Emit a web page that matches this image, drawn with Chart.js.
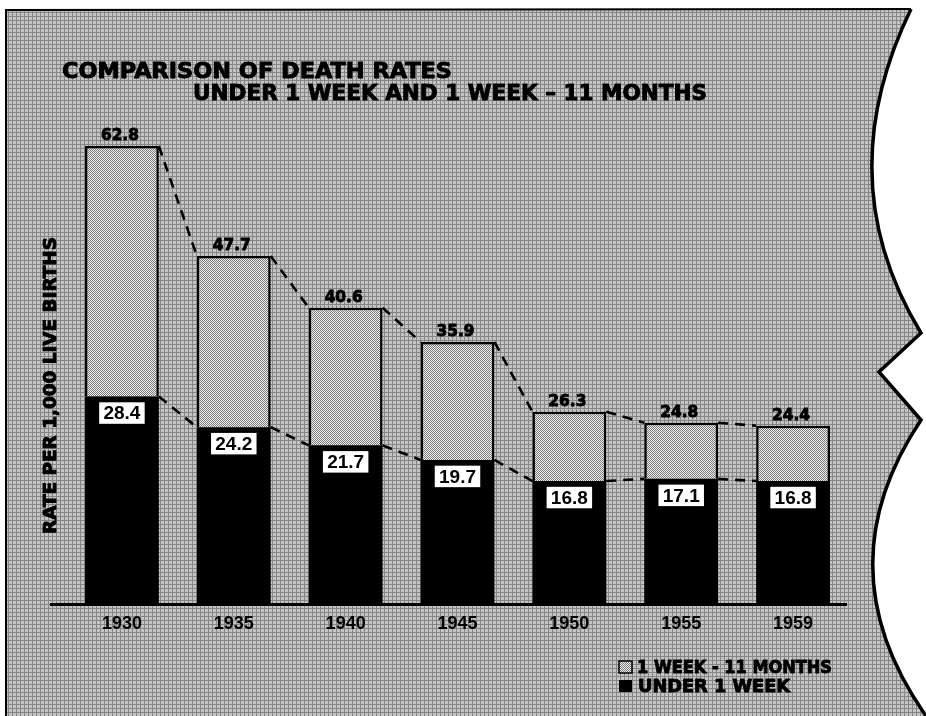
<!DOCTYPE html>
<html>
<head>
<meta charset="utf-8">
<script src="https://cdn.jsdelivr.net/npm/chart.js@4.4.0/dist/chart.umd.min.js"></script>
<style>
  html, body { margin: 0; padding: 0; background: #fff; }
</style>
</head>
<body>
<canvas id="death-chart" width="926" height="716"></canvas>
<script>
var years = ['1930', '1935', '1940', '1945', '1950', '1955', '1959'];
var underWeek = [28.4, 24.2, 21.7, 19.7, 16.8, 17.1, 16.8];
var weekToMonths = [34.4, 23.5, 18.9, 16.2, 9.5, 7.7, 7.6];
var totals = [62.8, 47.7, 40.6, 35.9, 26.3, 24.8, 24.4];

var canvas = document.getElementById('death-chart');
var ctx = canvas.getContext('2d');

function makePattern(size, draw) {
  var c = document.createElement('canvas');
  c.width = size; c.height = size;
  draw(c.getContext('2d'));
  return ctx.createPattern(c, 'repeat');
}

// scanned halftone looks
var bgPattern = makePattern(4, function(g) {
  g.fillStyle = '#c4c4c4'; g.fillRect(0, 0, 4, 4);
  g.fillStyle = '#858585'; g.fillRect(0, 0, 4, 1); g.fillRect(0, 0, 1, 4);
});
var dotPattern = makePattern(2, function(g) {
  g.fillStyle = '#f0f0f0'; g.fillRect(0, 0, 2, 2);
  g.fillStyle = '#7a7a7a'; g.fillRect(0, 0, 1, 1); g.fillRect(1, 1, 1, 1);
});

// stretch/squeeze a line of text to a given width, with a light stroke for weight
function fitText(c, text, x, y, w) {
  var m = c.measureText(text).width;
  c.save();
  c.translate(x, y);
  c.scale(w / m, 1);
  c.textAlign = 'left';
  c.lineWidth = 0.9;
  c.strokeStyle = c.fillStyle;
  c.fillText(text, 0, 0);
  c.strokeText(text, 0, 0);
  c.restore();
}

var decor = {
  id: 'decor',
  beforeDraw: function(chart) {
    var c = chart.ctx;
    c.save();
    c.fillStyle = '#fff';
    c.fillRect(0, 0, chart.width, chart.height);
    c.beginPath();
    c.moveTo(6, 10);
    c.lineTo(911, 9);
    c.quadraticCurveTo(828, 180, 921, 333);
    c.lineTo(879, 372);
    c.lineTo(921, 420);
    c.quadraticCurveTo(822, 568, 926, 716);
    c.lineTo(6, 716);
    c.closePath();
    c.fillStyle = bgPattern;
    c.fill();
    // frame
    c.strokeStyle = '#000';
    c.lineWidth = 2;
    c.beginPath();
    c.moveTo(6, 716); c.lineTo(6, 10); c.lineTo(911, 9);
    c.stroke();
    c.lineWidth = 3.5;
    c.beginPath();
    c.moveTo(911, 9);
    c.quadraticCurveTo(828, 180, 921, 333);
    c.lineTo(879, 372);
    c.lineTo(921, 420);
    c.quadraticCurveTo(822, 568, 926, 716);
    c.stroke();
    c.restore();
  },
  afterDatasetsDraw: function(chart) {
    var c = chart.ctx;
    var low = chart.getDatasetMeta(0).data;
    var high = chart.getDatasetMeta(1).data;
    var zero = chart.scales.y.getPixelForValue(0);
    c.save();
    // baseline
    c.strokeStyle = '#000';
    c.lineWidth = 3;
    c.beginPath();
    c.moveTo(50, zero + 1); c.lineTo(847, zero + 1);
    c.stroke();
    // dashed connectors between bar corners
    c.lineWidth = 2.6;
    c.setLineDash([10, 7]);
    [high, low].forEach(function(bars) {
      for (var i = 0; i < bars.length - 1; i++) {
        var a = bars[i], b = bars[i + 1];
        c.beginPath();
        c.moveTo(a.x + a.width / 2, a.y);
        c.lineTo(b.x - b.width / 2, b.y);
        c.stroke();
      }
    });
    c.setLineDash([]);
    // totals above bars
    c.fillStyle = '#000';
    c.font = 'bold 16px "DejaVu Sans"';
    c.textBaseline = 'alphabetic';
    high.forEach(function(bar, i) {
      fitText(c, totals[i].toFixed(1), bar.x - 21, bar.y - 6, 38);
    });
    // under 1 week values in white boxes
    c.font = 'bold 19px "Liberation Sans"';
    c.textAlign = 'center';
    c.textBaseline = 'middle';
    low.forEach(function(bar, i) {
      var w = 47, h = 23, top = bar.y + 5;
      c.fillStyle = '#fff';
      c.fillRect(bar.x - w / 2, top, w, h);
      c.lineWidth = 1.5;
      c.strokeStyle = '#000';
      c.strokeRect(bar.x - w / 2, top, w, h);
      c.fillStyle = '#000';
      c.fillText(underWeek[i].toFixed(1), bar.x, top + h / 2 + 1);
    });
    c.restore();
  },
  afterDraw: function(chart) {
    var c = chart.ctx;
    c.save();
    c.fillStyle = '#000';
    c.textBaseline = 'alphabetic';
    c.font = 'bold 21px "DejaVu Sans"';
    fitText(c, 'COMPARISON OF DEATH RATES', 62, 78, 390);
    fitText(c, 'UNDER 1 WEEK AND 1 WEEK \u2013 11 MONTHS', 193, 100, 514);
    // y axis title
    c.save();
    c.translate(52, 386);
    c.rotate(-Math.PI / 2);
    c.font = 'bold 17px "DejaVu Sans"';
    c.textBaseline = 'middle';
    fitText(c, 'RATE PER 1,000 LIVE BIRTHS', -148, 0, 297);
    c.restore();
    // legend
    var ds = chart.data.datasets;
    c.fillStyle = dotPattern;
    c.fillRect(619, 661, 13, 12);
    c.lineWidth = 1.5;
    c.strokeStyle = '#000';
    c.strokeRect(619, 661, 13, 12);
    c.fillStyle = '#000';
    c.fillRect(619, 680, 13, 12);
    c.font = 'bold 17px "DejaVu Sans"';
    fitText(c, ds[1].label, 637, 673, 195);
    fitText(c, ds[0].label, 638, 692, 152);
    c.restore();
  }
};

new Chart(ctx, {
  type: 'bar',
  data: {
    labels: years,
    datasets: [{
      label: 'UNDER 1 WEEK',
      data: underWeek,
      backgroundColor: '#000',
      borderWidth: 0
    }, {
      label: '1 WEEK - 11 MONTHS',
      data: weekToMonths,
      backgroundColor: dotPattern,
      borderColor: '#000',
      borderWidth: 2.5
    }]
  },
  options: {
    responsive: false,
    devicePixelRatio: 1,
    animation: false,
    layout: {
      padding: { left: 66, right: 77, top: 130, bottom: 71 }
    },
    datasets: {
      bar: { categoryPercentage: 1, barPercentage: 0.66 }
    },
    scales: {
      x: {
        stacked: true,
        grid: { display: false, drawTicks: false },
        border: { display: false },
        ticks: {
          color: '#000',
          padding: 10,
          font: { family: 'Liberation Sans', weight: 'bold', size: 18 }
        }
      },
      y: {
        stacked: true,
        display: false,
        min: 0,
        max: 65
      }
    },
    plugins: {
      legend: { display: false },
      tooltip: { enabled: false }
    }
  },
  plugins: [decor]
});
</script>
</body>
</html>
